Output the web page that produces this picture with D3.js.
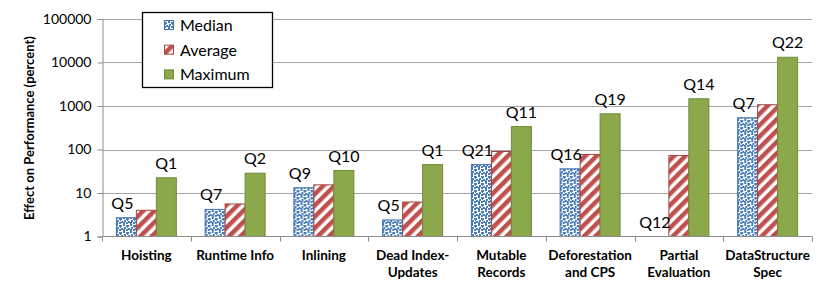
<!DOCTYPE html>
<html>
<head>
<meta charset="utf-8">
<script src="https://cdn.jsdelivr.net/npm/d3@7"></script>
<style>
  body { margin: 0; background: #fff; }
  svg { display: block; font-family: Lato, "Open Sans", sans-serif; }
</style>
</head>
<body>
<svg></svg>
<script>
var categories = [["Hoisting"], ["Runtime Info"], ["Inlining"], ["Dead Index-", "Updates"],
  ["Mutable", "Records"], ["Deforestation", "and CPS"], ["Partial", "Evaluation"], ["DataStructure", "Spec"]];
var seriesNames = ["Median", "Average", "Maximum"];
var median  = [2.7, 4.2, 13.2, 2.4, 45, 36, null, 536];
var average = [4.0, 5.6, 15.4, 6.2, 90, 77, 73, 1068];
var maximum = [22.4, 28.5, 32.9, 45, 337, 662, 1466, 13200];
var medianLabels  = ["Q5", "Q7", "Q9", "Q5", "Q21", "Q16", "Q12", "Q7"];
var maximumLabels = ["Q1", "Q2", "Q10", "Q1", "Q11", "Q19", "Q14", "Q22"];
var yTicks = [1, 10, 100, 1000, 10000, 100000];

var svgWidth = 830, svgHeight = 291;
var plotLeft = 102, plotRight = 812, plotTop = 19, plotBottom = 236.5;

var svg = d3.select("svg").attr("width", svgWidth).attr("height", svgHeight);

// patterns
var defs = svg.append("defs");
var dots = defs.append("pattern").attr("id", "pMedian").attr("patternUnits", "userSpaceOnUse")
  .attr("width", 7).attr("height", 7);
dots.append("rect").attr("width", 7).attr("height", 7).attr("fill", "#fff");
[[0,0,2,2],[3,1,3,2],[1,3,2,2],[5,4,2,2],[0,5,2,2],[3,5,2,2],[4,3,1,1]].forEach(function (r) {
  dots.append("rect").attr("x", r[0]).attr("y", r[1]).attr("width", r[2]).attr("height", r[3]).attr("fill", "#4A7EBB");
});
var stripes = defs.append("pattern").attr("id", "pAverage").attr("patternUnits", "userSpaceOnUse")
  .attr("width", 8).attr("height", 8).attr("patternTransform", "rotate(-45)");
stripes.append("rect").attr("width", 8).attr("height", 8).attr("fill", "#fff");
stripes.append("rect").attr("width", 8).attr("height", 4.5).attr("fill", "#C0504D");

var fills = ["url(#pMedian)", "url(#pAverage)", "#8BA94B"];
var strokes = ["#3F72AE", "#A5423F", "#6F8B3B"];

var y = d3.scaleLog().domain([1, 100000]).range([plotBottom, plotTop]);
var x0 = d3.scaleBand().domain(d3.range(categories.length)).range([plotLeft, plotRight]);
var x1 = d3.scaleBand().domain(d3.range(3)).range([0, x0.bandwidth()]).paddingOuter(0.72);

// gridlines
svg.selectAll("line.grid").data(yTicks.slice(1)).enter().append("line")
  .attr("x1", plotLeft).attr("x2", plotRight)
  .attr("y1", function (d) { return Math.round(y(d)) + 0.5; })
  .attr("y2", function (d) { return Math.round(y(d)) + 0.5; })
  .attr("stroke", "#A6A6A6").attr("stroke-width", 1);

// y axis
var yAxis = svg.append("g").attr("transform", "translate(" + (plotLeft + 0.5) + ",0)")
  .call(d3.axisLeft(y).tickValues(yTicks).tickFormat(d3.format("d")).tickSize(5).tickPadding(6));
yAxis.select(".domain").attr("stroke", "#8C8C8C");
yAxis.selectAll(".tick line").attr("stroke", "#8C8C8C");
yAxis.selectAll("text").attr("font-size", 14).attr("fill", "#000")
  .attr("font-family", "Lato, sans-serif");

// bars
var data = [median, average, maximum];
var groups = svg.selectAll("g.cat").data(categories).enter().append("g")
  .attr("transform", function (d, i) { return "translate(" + x0(i) + ",0)"; });

groups.selectAll("rect").data(function (d, i) {
  return data.map(function (s, j) { return {s: j, v: s[i]}; });
}).enter().filter(function (d) { return d.v != null; }).append("rect")
  .attr("x", function (d) { return x1(d.s); })
  .attr("width", x1.bandwidth())
  .attr("y", function (d) { return y(d.v); })
  .attr("height", function (d) { return plotBottom - y(d.v); })
  .attr("fill", function (d) { return fills[d.s]; })
  .attr("stroke", function (d) { return strokes[d.s]; })
  .attr("stroke-width", 1);

// Q labels
groups.append("text")
  .attr("x", function (d, i) { return x1(0) + x1.bandwidth() / 2 - 4; })
  .attr("y", function (d, i) { return y(median[i] == null ? 1 : median[i]) - 9; })
  .attr("text-anchor", "middle").attr("font-size", 16)
  .text(function (d, i) { return medianLabels[i]; });
groups.append("text")
  .attr("x", function (d, i) { return x1(2) + x1.bandwidth() / 2; })
  .attr("y", function (d, i) { return y(maximum[i]) - 9; })
  .attr("text-anchor", "middle").attr("font-size", 16)
  .text(function (d, i) { return maximumLabels[i]; });

// x axis baseline and category ticks
svg.append("line").attr("x1", plotLeft).attr("x2", plotRight).attr("y1", plotBottom).attr("y2", plotBottom)
  .attr("stroke", "#8C8C8C");
svg.selectAll("line.xtick").data(d3.range(categories.length + 1)).enter().append("line")
  .attr("x1", function (i) { return Math.round(plotLeft + i * x0.step()) + 0.5; })
  .attr("x2", function (i) { return Math.round(plotLeft + i * x0.step()) + 0.5; })
  .attr("y1", plotBottom).attr("y2", plotBottom + 5).attr("stroke", "#8C8C8C");

// category labels
groups.each(function (d) {
  var t = d3.select(this).append("text").attr("text-anchor", "middle")
    .attr("font-size", 13.5).attr("font-weight", "bold");
  d.forEach(function (line, k) {
    t.append("tspan").attr("x", x0.bandwidth() / 2).attr("y", 260 + k * 17).text(line);
  });
});

// y title
svg.append("text").attr("transform", "translate(34,128) rotate(-90)")
  .attr("text-anchor", "middle").attr("font-size", 13).attr("font-weight", "bold")
  .text("Effect on Performance (percent)");

// legend
var legend = svg.append("g");
legend.append("rect").attr("x", 142.5).attr("y", 12.5).attr("width", 130).attr("height", 75)
  .attr("fill", "#fff").attr("stroke", "#000").attr("stroke-width", 1.3);
seriesNames.forEach(function (name, j) {
  var cy = 25 + j * 24.7;
  legend.append("rect").attr("x", 164.5).attr("y", cy - 4.5).attr("width", 9).attr("height", 9)
    .attr("fill", fills[j]).attr("stroke", strokes[j]);
  legend.append("text").attr("x", 180).attr("y", cy + 6).attr("font-size", 16).text(name);
});
</script>
</body>
</html>
